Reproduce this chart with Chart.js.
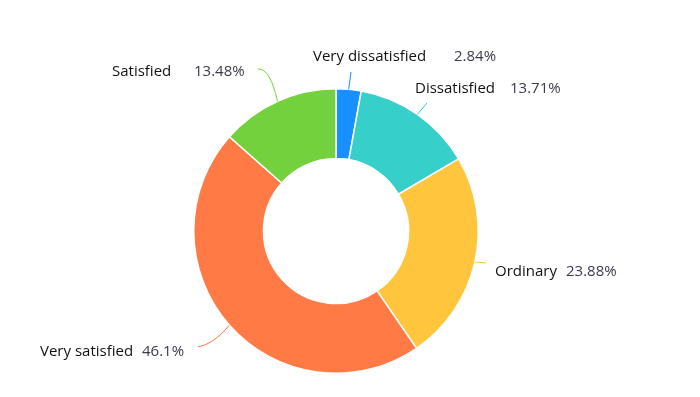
<!DOCTYPE html>
<html>
<head>
<meta charset="utf-8">
<script src="https://cdn.jsdelivr.net/npm/chart.js@4"></script>
<style>
  html, body { margin: 0; padding: 0; background: #fff; }
  #wrap { width: 700px; height: 397px; }
</style>
</head>
<body>
<div id="wrap"><canvas id="chart" width="700" height="397"></canvas></div>
<script>
// satisfaction survey, percent
var categories = ["Very dissatisfied", "Dissatisfied", "Ordinary", "Very satisfied", "Satisfied"];
var percents = [2.84, 13.71, 23.88, 46.1, 13.48];
var colors = ["#1890ff", "#36cfc9", "#ffc53d", "#ff7a45", "#73d13d"];

// where each outside label sits (line end, curve control, name, value)
var labelLayout = [
  { end: [351, 72], ctrl: null, name: [313, 57], pct: [454, 57] },
  { end: [427, 103], ctrl: null, name: [415, 89], pct: [510, 89] },
  { end: [486, 263], ctrl: null, name: [495, 272], pct: [566, 272] },
  { end: [198, 347], ctrl: [214, 344], name: [40, 352], pct: [142, 352] },
  { end: [258, 69], ctrl: [270, 68], name: [112, 72], pct: [194, 72] }
];

var outsideLabels = {
  id: "outsideLabels",
  afterDatasetsDraw: function (chart) {
    var ctx = chart.ctx;
    var meta = chart.getDatasetMeta(0);
    ctx.save();
    meta.data.forEach(function (arc, i) {
      var p = arc.getProps(["x", "y", "startAngle", "endAngle", "outerRadius"], true);
      var a = (p.startAngle + p.endAngle) / 2;
      var sx = p.x + Math.cos(a) * p.outerRadius;
      var sy = p.y + Math.sin(a) * p.outerRadius;
      var lay = labelLayout[i];
      ctx.strokeStyle = colors[i];
      ctx.lineWidth = 1;
      ctx.beginPath();
      ctx.moveTo(sx, sy);
      if (lay.ctrl) {
        ctx.quadraticCurveTo(lay.ctrl[0], lay.ctrl[1], lay.end[0], lay.end[1]);
      } else {
        ctx.lineTo(lay.end[0], lay.end[1]);
      }
      ctx.stroke();

      ctx.font = "15px 'Open Sans', 'Noto Sans', sans-serif";
      ctx.textBaseline = "middle";
      ctx.textAlign = "left";
      ctx.fillStyle = "#111";
      ctx.fillText(categories[i], lay.name[0], lay.name[1]);
      ctx.fillStyle = "#3a3a4a";
      ctx.fillText(percents[i] + "%", lay.pct[0], lay.pct[1]);
    });
    ctx.restore();
  }
};

new Chart(document.getElementById("chart").getContext("2d"), {
  type: "doughnut",
  data: {
    labels: categories,
    datasets: [{
      data: percents,
      backgroundColor: colors,
      borderColor: "#ffffff",
      borderWidth: 1.5,
      hoverOffset: 0
    }]
  },
  options: {
    responsive: false,
    animation: false,
    cutout: "51%",
    layout: { padding: { top: 87, bottom: 22, left: 193, right: 221 } },
    plugins: {
      legend: { display: false },
      tooltip: { enabled: false }
    }
  },
  plugins: [outsideLabels]
});
</script>
</body>
</html>
